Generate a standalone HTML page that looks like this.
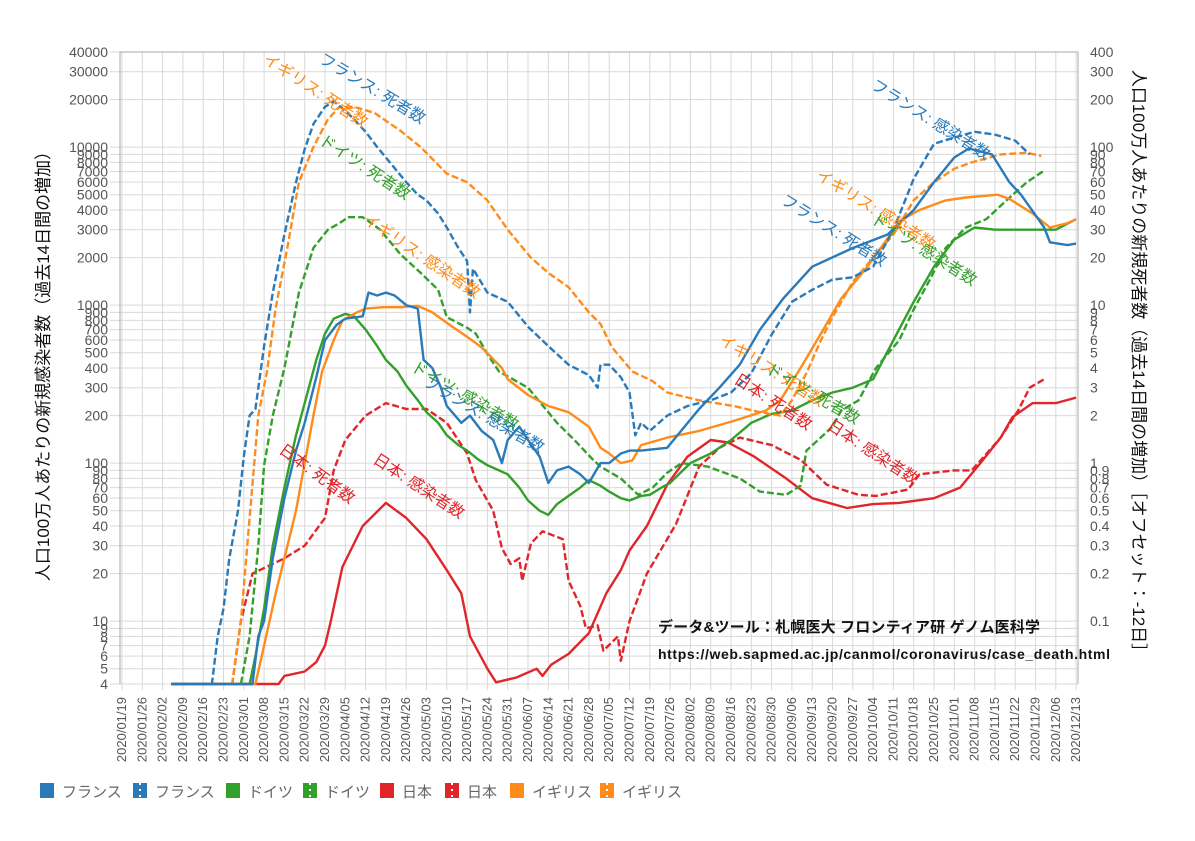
<!DOCTYPE html>
<html><head><meta charset="utf-8">
<style>
html,body{margin:0;padding:0;background:#fff;}
svg{display:block;font-family:"Liberation Sans","Noto Sans CJK JP",sans-serif;}
</style></head>
<body>
<svg id="chart" width="1195" height="841" viewBox="0 0 1195 841" xmlns="http://www.w3.org/2000/svg">
<rect x="0" y="0" width="1195" height="841" fill="#fff"/>
<g id="grid"></g>
<g id="axes"></g>
<g id="series"></g>
<g id="notes" font-size="16">
<text fill="#2a7ab9" transform="translate(318,62) rotate(31)">フランス: 死者数</text>
<text fill="#ff8c1a" transform="translate(262,62) rotate(33)">イギリス: 死者数</text>
<text fill="#33a02c" transform="translate(318,143) rotate(33)">ドイツ: 死者数</text>
<text fill="#ff8c1a" transform="translate(362,222) rotate(34)">イギリス: 感染者数</text>
<text fill="#33a02c" transform="translate(410,370) rotate(30)">ドイツ: 感染者数</text>
<text fill="#2a7ab9" transform="translate(422,385) rotate(30)">フランス: 感染者数</text>
<text fill="#e0262b" transform="translate(278,452) rotate(36)">日本: 死者数</text>
<text fill="#e0262b" transform="translate(372,462) rotate(33)">日本: 感染者数</text>
<text fill="#2a7ab9" transform="translate(870,88) rotate(32)">フランス: 感染者数</text>
<text fill="#ff8c1a" transform="translate(815,178) rotate(32)">イギリス: 感染者数</text>
<text fill="#2a7ab9" transform="translate(780,203) rotate(32)">フランス: 死者数</text>
<text fill="#33a02c" transform="translate(870,222) rotate(32)">ドイツ: 感染者数</text>
<text fill="#ff8c1a" transform="translate(718,343) rotate(32)">イギリス: 死者数</text>
<text fill="#33a02c" transform="translate(765,372) rotate(30)">ドイツ: 死者数</text>
<text fill="#e0262b" transform="translate(733,382) rotate(33)">日本: 死者数</text>
<text fill="#e0262b" transform="translate(826,428) rotate(33)">日本: 感染者数</text>
</g>
<text x="658" y="632" font-size="15" font-weight="bold" fill="#111" textLength="382">データ&amp;ツール：札幌医大 フロンティア研 ゲノム医科学</text>
<text x="658" y="659" font-size="14" font-weight="bold" fill="#111" textLength="452">https://web.sapmed.ac.jp/canmol/coronavirus/case_death.html</text>
<text transform="translate(49,362) rotate(-90)" text-anchor="middle" font-size="17" fill="#111">人口100万人あたりの新規感染者数（過去14日間の増加）</text>
<text transform="translate(1133,365) rotate(90)" text-anchor="middle" font-size="17" fill="#111">人口100万人あたりの新規死者数（過去14日間の増加）［オフセット：-12日］</text>
<g id="legend" font-size="15" fill="#666"></g>
</svg>
<script>
// ---- data (days since 2020/01/19) ----
const frCasesDays=[17,45,47,49,52,56,60,63,67,70,74,77,83,85,88,91,94,98,102,104,107,110,112,117,120,124,128,131,133,137,140,144,147,150,154,158,161,165,168,172,175,179,188,199,206,213,220,228,238,252,264,273,280,287,292,300,306,310,318,320,326,329];
const frCases=[4,4,8,10,25,60,120,180,350,600,750,820,850,1200,1150,1200,1150,1000,950,450,400,300,230,180,200,160,140,100,140,170,140,110,75,90,95,85,75,100,100,115,120,120,125,220,300,420,700,1100,1750,2300,2800,4000,6000,8600,9800,9000,6000,5000,3100,2500,2400,2450];
const frDeathsDays=[17,31,33,35,37,40,42,44,46,49,52,56,60,63,66,70,73,77,80,84,88,91,95,98,102,105,109,112,116,119,120,121,126,133,140,147,154,161,164,165,168,172,175,177,179,182,188,195,203,210,217,224,231,238,245,252,259,266,273,280,287,294,301,308,313];
const frDeaths=[.04,.04,.08,.12,.25,.5,1.1,2,2.2,5.5,12,28,60,97,140,180,195,170,150,125,100,86,70,60,50,46,38,31,23,19,9,17,12,10.5,7.3,5.5,4.2,3.6,3,4.2,4.2,3.5,2.8,1.5,1.8,1.6,2,2.3,2.5,2.8,3.7,6.5,10.5,12.5,14.5,15,17.5,30,63,105,115,125,120,110,90];
const deCasesDays=[17,44,46,49,52,56,60,63,67,70,73,77,80,84,88,91,95,98,102,105,109,112,116,119,123,126,130,133,137,140,144,147,150,154,158,161,165,168,172,175,179,182,186,189,196,203,210,217,224,231,238,245,252,259,266,273,280,287,294,301,308,315,322,329];
const deCases=[4,4,6,12,30,70,150,240,450,660,820,880,850,700,550,450,380,310,250,210,180,150,130,120,105,97,90,85,70,58,50,47,55,62,70,78,72,66,60,58,62,63,70,75,100,115,140,180,205,215,250,280,300,340,600,1050,1750,2600,3100,3000,3000,3000,3000,3500];
const deDeathsDays=[17,41,44,47,49,52,56,61,66,71,75,78,83,86,89,96,103,109,112,119,122,126,130,140,150,156,162,165,172,178,183,188,193,202,213,220,229,234,236,240,245,248,254,260,268,273,279,284,291,298,305,312,318];
const deDeaths=[.04,.04,.08,.3,.97,2,4,12,23,30,33,36,36,33,30,21,16,12.5,8.4,7.2,6.6,4.9,3.8,3,1.8,1.4,1.07,.95,.8,.63,.7,.87,1,.95,.8,.66,.63,.72,1.2,1.4,1.7,2.15,2.5,4,6,9.4,15,23,31,35,46,60,71];
const jpCasesDays=[17,54,56,63,67,70,72,76,83,91,98,105,112,117,120,126,129,136,143,145,148,154,161,167,172,175,181,188,195,203,209,218,229,238,250,259,268,280,289,296,303,307,314,322,329];
const jpCases=[4,4,4.5,4.8,5.5,7,10,22,40,56,45,33,21,15,8,5,4.1,4.4,5,4.5,5.3,6.2,8.4,15,21,28,40,73,110,140,135,110,80,60,52,55,56,60,70,100,145,195,240,240,260];
const jpDeathsDays=[17,38,41,45,56,63,70,73,77,84,91,98,105,112,119,122,128,131,134,137,138,141,145,152,154,158,160,164,166,171,172,175,181,191,199,206,213,224,234,243,254,260,271,275,287,293,303,309,313,318];
const jpDeaths=[.04,.04,.1,.2,.25,.3,.45,.9,1.4,2,2.4,2.2,2.2,1.8,1.15,.78,.5,.29,.23,.25,.18,.31,.37,.33,.18,.125,.09,.094,.065,.08,.056,.1,.2,.41,.95,1.25,1.45,1.3,1.05,.73,.63,.62,.68,.85,.9,.9,1.45,2.15,3,3.4];
const ukCasesDays=[17,46,49,53,56,60,63,66,69,73,76,81,84,90,96,102,107,113,119,124,131,133,140,147,154,161,165,168,172,176,179,188,199,211,222,227,234,241,248,257,265,268,275,284,291,302,306,314,320,326,329];
const ukCases=[4,4,7,15,25,50,100,200,380,600,800,900,950,970,970,990,900,750,630,540,400,340,270,230,210,170,125,115,100,104,130,145,160,185,215,250,400,660,1100,1750,2800,3400,4000,4600,4800,5000,4700,3800,3100,3300,3500];
const ukDeathsDays=[17,38,41,44,47,50,53,57,61,66,71,75,80,87,96,103,112,119,126,133,141,147,154,161,165,169,176,183,188,199,211,220,227,231,236,241,245,252,259,266,273,280,287,293,303,312,317];
const ukDeaths=[.04,.04,.1,.45,2,3.8,9.6,23,60,100,150,180,180,165,127,100,68,60,46,30,20,16,13,9,7.6,5.4,3.8,3.3,2.8,2.5,2.3,2.1,2,2.5,3.7,6,8.4,14,20,28,46,60,73,80,90,92,88];
const leftTicks=[4,5,6,7,8,9,10,20,30,40,50,60,70,80,90,100,200,300,400,500,600,700,800,900,1000,2000,3000,4000,5000,6000,7000,8000,9000,10000,20000,30000,40000];
const rightTicks=[0.1,0.2,0.3,0.4,0.5,0.6,0.7,0.8,0.9,1,2,3,4,5,6,7,8,9,10,20,30,40,50,60,70,80,90,100,200,300,400];
const weekCount=48;

const NS="http://www.w3.org/2000/svg";
const X0=122, PXD=2.9, PL=120, PR=1078, PT=52, PB=684;
const xs=d=>X0+d*PXD;
const yL=v=>PT+(Math.log10(40000)-Math.log10(v))*158;
const yR=v=>yL(v*100);
function mk(tag,attrs,parent){const e=document.createElementNS(NS,tag);for(const k in attrs)e.setAttribute(k,attrs[k]);parent.appendChild(e);return e;}
const grid=document.getElementById('grid'), axes=document.getElementById('axes'), ser=document.getElementById('series'), leg=document.getElementById('legend');

leftTicks.forEach(v=>{
  const y=yL(v);
  const l=mk('line',{x1:PL-10,x2:PR,y1:y,y2:y,stroke:'#d9d9d9','stroke-width':1},grid);
  
  
  const t=mk('text',{x:108,y:y+5,'text-anchor':'end','font-size':14,fill:'#555'},axes);
  t.textContent=String(v);
  
  
});
rightTicks.forEach(v=>{
  const y=yR(v);
  const t=mk('text',{x:1090,y:y+5,'font-size':14,fill:'#555'},axes);
  t.textContent=String(v);
  
  
});
const start=new Date(2020,0,19);
for(let i=0;i<weekCount;i++){
  const x=xs(i*7);
  const l=mk('line',{x1:x,x2:x,y1:PT,y2:PB+6,stroke:'#d9d9d9','stroke-width':1},grid);
  
  
  const dt=new Date(start.getTime()+i*7*86400000);
  const s=dt.getFullYear()+'/'+String(dt.getMonth()+1).padStart(2,'0')+'/'+String(dt.getDate()).padStart(2,'0');
  const t=mk('text',{transform:`translate(${x+4},697) rotate(-90)`,'text-anchor':'end','font-size':13,fill:'#555'},axes);
  t.textContent=s;
  
  
}
const frame=mk('path',{d:`M${PL},${PB} L${PL},${PT} L${PR},${PT} L${PR},${PB}`,fill:'none',stroke:'#aaa','stroke-width':1},axes);



function draw(days,vals,scale,color,dash,name){
  const n=Math.min(days.length,vals.length);
  let d='';
  for(let i=0;i<n;i++){d+=(i?'L':'M')+xs(days[i]).toFixed(1)+','+scale(vals[i]).toFixed(1);}
  const p=mk('path',{d:d,fill:'none',stroke:color,'stroke-width':2.4,'stroke-linejoin':'round'},ser);
  if(dash)p.setAttribute('stroke-dasharray','7,3');
  
  
}
const C={fr:'#2a7ab9',de:'#33a02c',jp:'#e0262b',uk:'#ff8c1a'};
draw(jpDeathsDays,jpDeaths,yR,C.jp,true,'line-japan-deaths');
draw(jpCasesDays,jpCases,yL,C.jp,false,'line-japan-cases');
draw(deDeathsDays,deDeaths,yR,C.de,true,'line-germany-deaths');
draw(deCasesDays,deCases,yL,C.de,false,'line-germany-cases');
draw(ukDeathsDays,ukDeaths,yR,C.uk,true,'line-uk-deaths');
draw(ukCasesDays,ukCases,yL,C.uk,false,'line-uk-cases');
draw(frDeathsDays,frDeaths,yR,C.fr,true,'line-france-deaths');
draw(frCasesDays,frCases,yL,C.fr,false,'line-france-cases');

const legItems=[['フランス',C.fr,false,40],['フランス',C.fr,true,133],['ドイツ',C.de,false,226],['ドイツ',C.de,true,303],['日本',C.jp,false,380],['日本',C.jp,true,445],['イギリス',C.uk,false,510],['イギリス',C.uk,true,600]];
legItems.forEach(it=>{
  const g=mk('g',{},leg);
  
  
  mk('rect',{x:it[3],y:783,width:14,height:15,fill:it[1]},g);
  if(it[2]){mk('line',{x1:it[3]+7,x2:it[3]+7,y1:783,y2:798,stroke:'#fff','stroke-width':2,'stroke-dasharray':'2,4'},g);}
  const t=mk('text',{x:it[3]+22,y:797,fill:'#666','font-size':15},g);
  t.textContent=it[0];
});
</script>
</body></html>
